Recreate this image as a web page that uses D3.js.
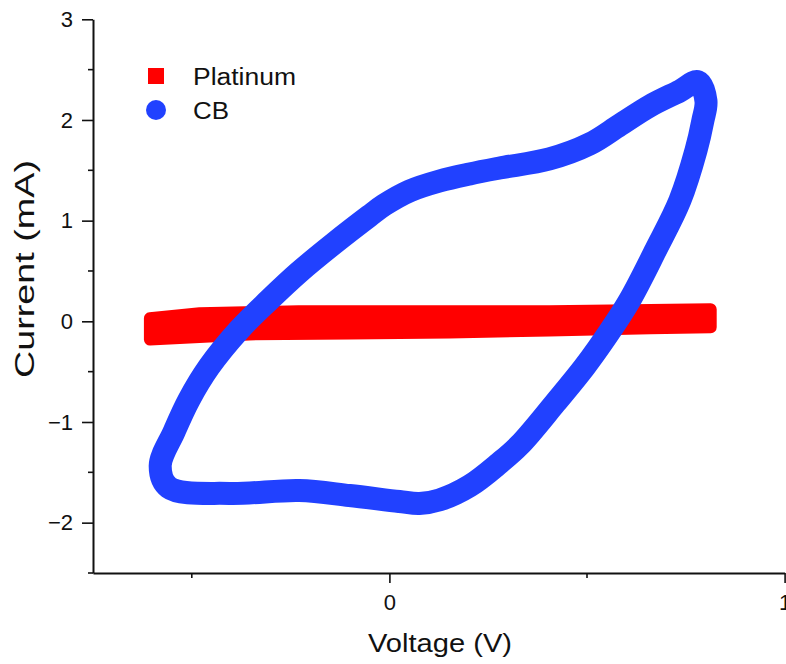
<!DOCTYPE html>
<html>
<head>
<meta charset="utf-8">
<script src="https://cdn.jsdelivr.net/npm/d3@7"></script>
<style>
  body { margin: 0; background: #fff; }
  text { font-family: "Liberation Sans", Arial, sans-serif; fill: #111; }
</style>
</head>
<body>
<div id="chart"></div>
<script>
// series names for the legend
var seriesNames = ["Platinum", "CB"];

// Platinum loop (forward scan then reverse)
var ptV = [-0.606, -0.48, -0.23, 0.025, 0.405, 0.813, 0.813, 0.66, 0.405, 0.152, -0.10, -0.355, -0.606];
var ptI = [0.03, 0.08, 0.10, 0.10, 0.10, 0.12, -0.06, -0.07, -0.09, -0.11, -0.12, -0.13, -0.18];

// CB loop
var cbV = [-0.580, -0.545, -0.507, -0.456, -0.380, -0.304, -0.228, -0.139, -0.051, -0.013, 0.051, 0.127, 0.203,
           0.279, 0.405, 0.507, 0.583, 0.659, 0.735, 0.781, 0.801, 0.793, 0.776, 0.735, 0.674, 0.608,
           0.555, 0.494, 0.420, 0.330, 0.279, 0.203, 0.127, 0.076, 0.025, -0.101, -0.228, -0.405, -0.558];
var cbI = [-1.436, -1.098, -0.779, -0.451, -0.084, 0.213, 0.490, 0.778, 1.046, 1.156, 1.295, 1.394, 1.464,
           1.523, 1.613, 1.762, 1.950, 2.139, 2.288, 2.38, 2.19, 1.99, 1.70, 1.20, 0.71, 0.21,
           -0.115, -0.451, -0.809, -1.227, -1.406, -1.635, -1.774, -1.81, -1.79, -1.73, -1.68, -1.71, -1.65];

// ticks
var xMajor = [0, 1], xMinor = [-0.5, 0.5];
var yMajor = [-2, -1, 0, 1, 2, 3], yMinor = [-2.5, -1.5, -0.5, 0.5, 1.5, 2.5];

var W = 786, H = 664;
var margin = {top: 19.3, right: 1.4, bottom: 91, left: 93},
    width = W - margin.left - margin.right,
    height = H - margin.top - margin.bottom;

var svg = d3.select("#chart")
  .append("svg")
    .attr("width", W)
    .attr("height", H)
  .append("g")
    .attr("transform", "translate(" + margin.left + "," + margin.top + ")");

var x = d3.scaleLinear().domain([-0.75, 1]).range([0, width]);
var y = d3.scaleLinear().domain([-2.5, 3]).range([height, 0]);

var pt = ptV.map(function(v, i) { return [v, ptI[i]]; });
var cb = cbV.map(function(v, i) { return [v, cbI[i]]; });

// Platinum band
svg.append("path")
  .datum(pt)
  .attr("d", d3.line().x(function(d) { return x(d[0]); }).y(function(d) { return y(d[1]); })
    .curve(d3.curveLinearClosed))
  .attr("fill", "#ff0000")
  .attr("stroke", "#ff0000")
  .attr("stroke-width", 12)
  .attr("stroke-linejoin", "round");

// CB loop
svg.append("path")
  .datum(cb)
  .attr("d", d3.line().x(function(d) { return x(d[0]); }).y(function(d) { return y(d[1]); })
    .curve(d3.curveCatmullRomClosed.alpha(0.5)))
  .attr("fill", "none")
  .attr("stroke", "#2141ff")
  .attr("stroke-width", 23)
  .attr("stroke-linejoin", "round");

// axes
var xAxis = svg.append("g")
  .attr("transform", "translate(0," + height + ")")
  .call(d3.axisBottom(x).tickValues(xMajor).tickSize(10).tickSizeOuter(0).tickPadding(11).tickFormat(d3.format("d")));
xAxis.append("g").selectAll("line")
  .data(xMinor).enter().append("line")
  .attr("x1", function(d) { return x(d); }).attr("x2", function(d) { return x(d); })
  .attr("y1", 0).attr("y2", 5);

var yAxis = svg.append("g")
  .call(d3.axisLeft(y).tickValues(yMajor).tickSize(11).tickSizeOuter(0).tickPadding(9).tickFormat(d3.format("d")));
yAxis.append("g").selectAll("line")
  .data(yMinor).enter().append("line")
  .attr("x1", 0).attr("x2", -5)
  .attr("y1", function(d) { return y(d); }).attr("y2", function(d) { return y(d); });

svg.selectAll(".domain").attr("stroke", "#111").attr("stroke-width", 2);
svg.selectAll("line").attr("stroke", "#111").attr("stroke-width", 1.6);
svg.selectAll(".tick text")
  .style("font-family", "Liberation Sans, Arial, sans-serif")
  .style("font-size", "22px")
  .attr("fill", "#111");

// axis titles
svg.append("text")
  .attr("x", 440 - margin.left)
  .attr("y", 652 - margin.top)
  .attr("text-anchor", "middle")
  .attr("textLength", 144)
  .attr("lengthAdjust", "spacingAndGlyphs")
  .style("font-size", "26px")
  .text("Voltage (V)");

svg.append("text")
  .attr("transform", "translate(" + (34 - margin.left) + "," + (269 - margin.top) + ") rotate(-90)")
  .attr("text-anchor", "middle")
  .attr("textLength", 218)
  .attr("lengthAdjust", "spacingAndGlyphs")
  .style("font-size", "27px")
  .text("Current (mA)");

// legend
var legend = svg.append("g").attr("transform", "translate(" + (156 - margin.left) + "," + (76 - margin.top) + ")");
legend.append("rect")
  .attr("x", -8).attr("y", -8).attr("width", 16).attr("height", 16)
  .attr("fill", "#ff0000");
legend.append("circle")
  .attr("cx", 0).attr("cy", 34).attr("r", 10)
  .attr("fill", "#2141ff");
legend.selectAll("text.lab")
  .data(seriesNames).enter().append("text")
  .attr("class", "lab")
  .attr("x", 37)
  .attr("y", function(d, i) { return 8.5 + i * 34; })
  .attr("textLength", function(d, i) { return i === 0 ? 103 : 36; })
  .attr("lengthAdjust", "spacingAndGlyphs")
  .style("font-size", "23px")
  .text(function(d) { return d; });
</script>
</body>
</html>
